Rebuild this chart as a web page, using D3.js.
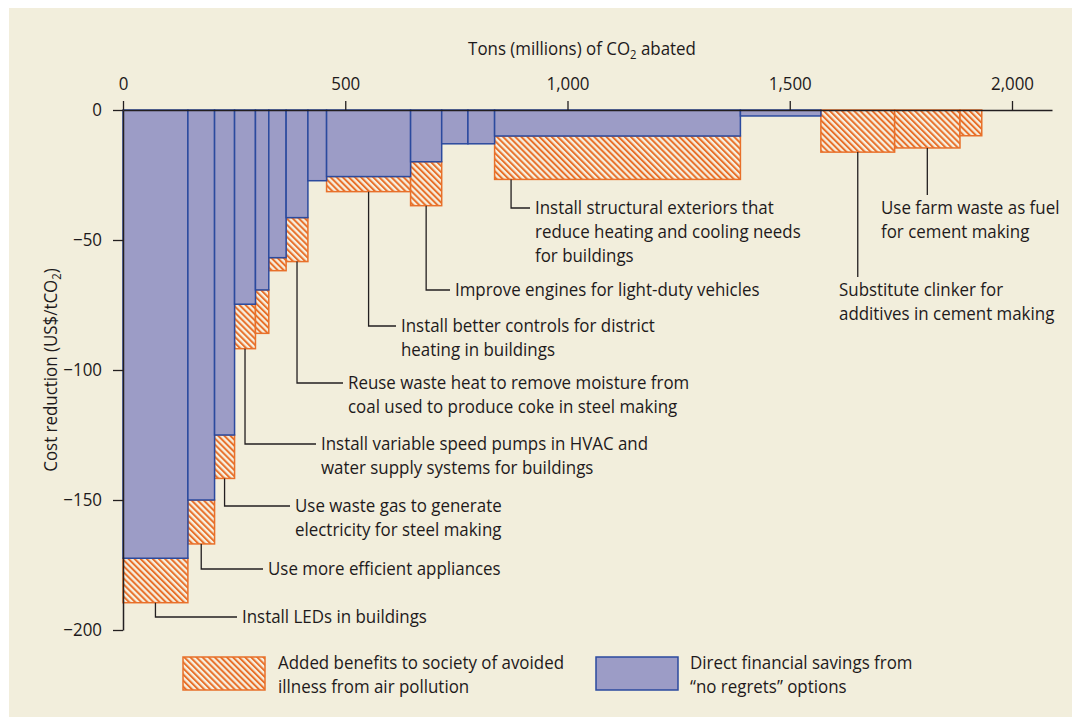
<!DOCTYPE html>
<html>
<head>
<meta charset="utf-8">
<script src="https://cdn.jsdelivr.net/npm/d3@7"></script>
<style>
  body { margin: 0; background: #fff; }
  text { font-family: "Open Sans", sans-serif; fill: #1e1a1b; }
</style>
</head>
<body>
<svg id="chart" width="1072" height="718"></svg>
<script>
// abatement per measure, millions of tons CO2 (bar widths, left to right)
const abated = [146, 60, 45, 47, 30, 39, 49, 42, 189, 70, 59, 60, 553, 181, 166, 147, 49]
// direct financial savings, US$/tCO2
const directSavings = [-172.4, -150, -125, -74.7, -69.2, -56.8, -41.4, -27.2, -25.6, -19.9, -13, -13, -10, -2.3, 0, 0, 0]
// extra benefit from avoided illness, US$/tCO2 (stacked below the direct part)
const healthBenefits = [-17.1, -16.9, -16.7, -17.1, -16.7, -5, -16.9, 0, -5.8, -16.9, 0, 0, -16.7, 0, -16.2, -14.6, -9.9]
// label text per measure (null = not labelled)
const measureLabels = [
	["Install LEDs in buildings"],
	["Use more efficient appliances"],
	["Use waste gas to generate", "electricity for steel making"],
	["Install variable speed pumps in HVAC and", "water supply systems for buildings"],
	null,
	null,
	["Reuse waste heat to remove moisture from", "coal used to produce coke in steel making"],
	null,
	["Install better controls for district", "heating in buildings"],
	["Improve engines for light-duty vehicles"],
	null,
	null,
	["Install structural exteriors that", "reduce heating and cooling needs", "for buildings"],
	null,
	["Substitute clinker for", "additives in cement making"],
	["Use farm waste as fuel", "for cement making"],
	null
]
const xTicks = [0, 500, 1000, 1500, 2000]
const yTicks = [0, -50, -100, -150, -200]
const legendLabels = [
	["Added benefits to society of avoided", "illness from air pollution"],
	["Direct financial savings from", "\u201cno regrets\u201d options"]
]

// where each callout text sits (pixels); "below" = leader drops straight onto text
const labelLayout = {
	0: { tx: 242, ty: 617 },
	1: { tx: 268, ty: 569 },
	2: { tx: 295, ty: 506 },
	3: { tx: 321, ty: 444 },
	6: { tx: 348, ty: 383 },
	8: { tx: 401, ty: 326 },
	9: { tx: 455, ty: 290 },
	12: { tx: 535, ty: 208, at: 0.067 },
	14: { tx: 839, ty: 290, below: true },
	15: { tx: 881, ty: 208, below: true }
}

const blueFill = '#9c9cc6'
const blueLine = '#2b4a9e'
const orange = '#e8702a'
const ink = '#231f20'
const squeeze = 0.94 // narrow the sans font to look like the condensed original
const fontSize = 18
const lineGap = 24

const svg = d3.select('#chart')

svg.append('rect')
	.attr('x', 9).attr('y', 8)
	.attr('width', 1063).attr('height', 709)
	.attr('fill', '#f2eedc')

// hatch pattern
const defs = svg.append('defs')
const pat = defs.append('pattern')
	.attr('id', 'hatch')
	.attr('patternUnits', 'userSpaceOnUse')
	.attr('width', 4.3).attr('height', 10)
	.attr('patternTransform', 'rotate(-45)')
pat.append('rect').attr('width', 4.3).attr('height', 10).attr('fill', '#f6f0e0')
pat.append('line')
	.attr('x1', 1).attr('x2', 1).attr('y1', 0).attr('y2', 10)
	.attr('stroke', orange).attr('stroke-width', 2)

const x = d3.scaleLinear().domain([0, 2090]).range([123, 1052])
const y = d3.scaleLinear().domain([-200, 0]).range([630, 110])

// build bars from cumulative widths
let acc = 0
const bars = abated.map((w, i) => {
	const b = {
		i, x0: acc, x1: acc + w,
		direct: directSavings[i],
		total: directSavings[i] + healthBenefits[i],
		label: measureLabels[i]
	}
	acc += w
	return b
})

const gBars = svg.append('g')
gBars.selectAll('rect.health')
	.data(bars.filter(d => d.total < d.direct))
	.join('rect')
	.attr('class', 'health')
	.attr('x', d => x(d.x0))
	.attr('width', d => x(d.x1) - x(d.x0))
	.attr('y', d => y(d.direct))
	.attr('height', d => y(d.total) - y(d.direct))
	.attr('fill', 'url(#hatch)')
	.attr('stroke', orange)
	.attr('stroke-width', 1.5)

gBars.selectAll('rect.direct')
	.data(bars.filter(d => d.direct < 0))
	.join('rect')
	.attr('class', 'direct')
	.attr('x', d => x(d.x0))
	.attr('width', d => x(d.x1) - x(d.x0))
	.attr('y', y(0))
	.attr('height', d => y(d.direct) - y(0))
	.attr('fill', blueFill)
	.attr('stroke', blueLine)
	.attr('stroke-width', 1.5)

// text helper: multi-line, horizontally squeezed
function addText(parent, lines, tx, ty, anchor) {
	const t = parent.append('text')
		.attr('transform', `translate(${tx},${ty}) scale(${squeeze},1)`)
		.attr('font-size', fontSize)
		.attr('text-anchor', anchor || 'start')
	lines.forEach((ln, k) => {
		t.append('tspan').attr('x', 0).attr('y', k * lineGap).attr('dy', '0.35em').text(ln)
	})
	return t
}

// callouts
const gLab = svg.append('g')
bars.filter(d => d.label).forEach(d => {
	const lay = labelLayout[d.i]
	const lx = x(d.x0 + (d.x1 - d.x0) * (lay.at == null ? 0.5 : lay.at))
	const top = y(Math.min(d.total, d.direct))
	const path = lay.below
		? `M${lx},${top}V${lay.ty - 13}`
		: `M${lx},${top}V${lay.ty}H${lay.tx - 5}`
	gLab.append('path').attr('d', path)
		.attr('fill', 'none').attr('stroke', ink).attr('stroke-width', 1.3)
	addText(gLab, d.label, lay.tx, lay.ty)
})

// axes
const xAxis = svg.append('g')
	.attr('transform', `translate(0,${y(0)})`)
	.call(d3.axisTop(x).tickValues(xTicks).tickFormat(d3.format(',')).tickSizeInner(9).tickSizeOuter(0).tickPadding(11))
const yAxis = svg.append('g')
	.attr('transform', `translate(${x(0)},0)`)
	.call(d3.axisLeft(y).tickValues(yTicks).tickFormat(d3.format('d')).tickSizeInner(10).tickSizeOuter(0).tickPadding(11))

;[xAxis, yAxis].forEach(g => {
	g.select('.domain').attr('stroke', ink).attr('stroke-width', 1.5)
	g.selectAll('.tick line').attr('stroke', ink).attr('stroke-width', 1.3)
	g.selectAll('.tick text')
		.attr('fill', ink)
		.style('font-family', '"Open Sans", sans-serif')
		.attr('font-size', fontSize)
})
xAxis.selectAll('.tick text').attr('transform', `scale(${squeeze},1)`)
yAxis.selectAll('.tick text').each(function () {
	const t = d3.select(this)
	const tx = +t.attr('x')
	t.attr('x', 0).attr('transform', `translate(${tx},0) scale(${squeeze},1)`)
})

// axis titles
const xt = svg.append('text')
	.attr('transform', `translate(582,55) scale(${squeeze},1)`)
	.attr('text-anchor', 'middle').attr('font-size', fontSize)
xt.append('tspan').text('Tons (millions) of CO')
xt.append('tspan').attr('font-size', 12).attr('dy', 4).text('2')
xt.append('tspan').attr('dy', -4).text(' abated')

const yt = svg.append('text')
	.attr('transform', `translate(57,370) rotate(-90) scale(${squeeze},1)`)
	.attr('text-anchor', 'middle').attr('font-size', fontSize)
yt.append('tspan').text('Cost reduction (US$/tCO')
yt.append('tspan').attr('font-size', 12).attr('dy', 4).text('2')
yt.append('tspan').attr('dy', -4).text(')')

// legend
const gLeg = svg.append('g')
gLeg.append('rect')
	.attr('x', 183).attr('y', 657).attr('width', 82).attr('height', 33)
	.attr('fill', 'url(#hatch)').attr('stroke', orange).attr('stroke-width', 1.5)
addText(gLeg, legendLabels[0], 278, 663)
gLeg.append('rect')
	.attr('x', 596).attr('y', 657).attr('width', 82).attr('height', 33)
	.attr('fill', blueFill).attr('stroke', blueLine).attr('stroke-width', 1.5)
addText(gLeg, legendLabels[1], 690, 663)
</script>
</body>
</html>
